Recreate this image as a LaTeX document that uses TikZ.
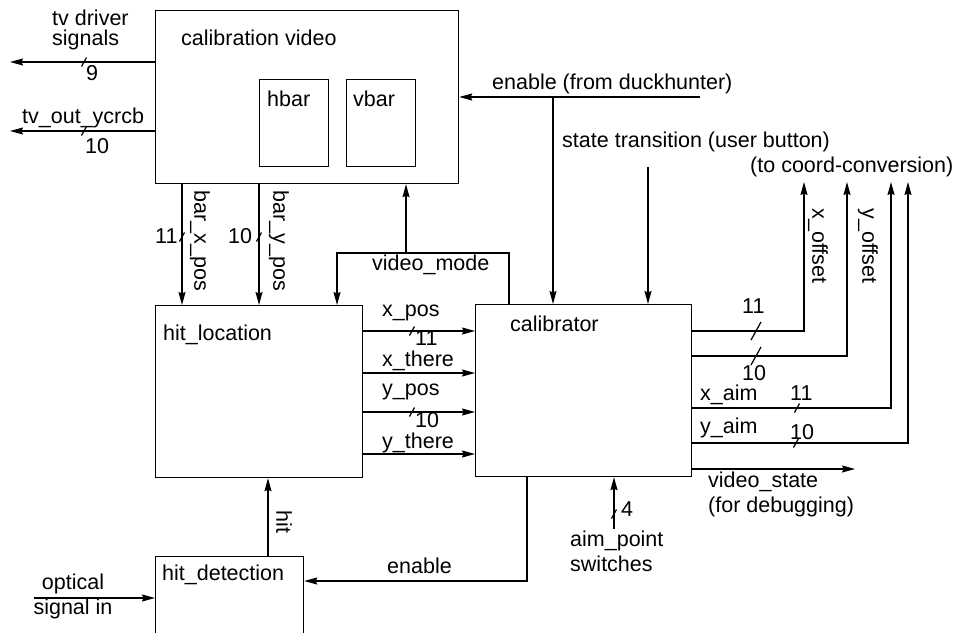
\documentclass[tikz,border=0pt]{standalone}
\usepackage{fontspec}
\setmainfont{Liberation Sans}
\usetikzlibrary{arrows.meta,calc}

\tikzset{
  blk/.style={draw, line width=1.2pt, anchor=north west, inner sep=0pt},
  lbl/.style={anchor=base west, inner sep=0pt, font=\fontsize{21.5}{25}\selectfont},
  vlbl/.style={rotate=-90, inner sep=0pt, font=\fontsize{21.5}{25}\selectfont},
  sig/.style={line width=1.2pt, -{Stealth[length=13pt,width=7pt,inset=1.5pt]}},
  wire/.style={line width=1.2pt}
}
\newcommand{\busmark}[2][1]{\draw[wire] ($(#2)+(-2.5*#1,4.5*#1)$) -- ($(#2)+(2.5*#1,-4.5*#1)$);}

\begin{document}
\begin{tikzpicture}[x=1pt, y=-1pt]
    \useasboundingbox (0,0) rectangle (955,632);
    \clip (0,0) rectangle (955,632);

    % Blocks
    \node[blk, minimum width=303pt, minimum height=173pt] (cv) at (155,10) {};
    \node[blk, minimum width=69pt, minimum height=87pt] (hbar) at (259,79) {};
    \node[blk, minimum width=69pt, minimum height=87pt] (vbar) at (346,79) {};
    \node[blk, minimum width=207pt, minimum height=172pt] (hl) at (155,305) {};
    \node[blk, minimum width=216pt, minimum height=172pt] (cal) at (475,304) {};
    \node[blk, minimum width=148pt, minimum height=100pt] (hd) at (155,556) {};

    \node[lbl] (cvT) at (181,45) {calibration video};
    \node[lbl] (hbarT) at (267,106) {hbar};
    \node[lbl] (vbarT) at (353,106) {vbar};
    \node[lbl] (hlT) at (163,340) {hit\_location};
    \node[lbl] (calT) at (510,331) {calibrator};
    \node[lbl] (hdT) at (162,580) {hit\_detection};

    % Free ends and bends
    \coordinate (tvd) at (10,62);
    \coordinate (tvo) at (10,131);
    \coordinate (bx) at (182,0);
    \coordinate (by) at (259,0);
    \coordinate (vmR) at (509,253);
    \coordinate (vmL) at (337,253);
    \coordinate (vmU) at (406,253);
    \coordinate (xp) at (0,331);
    \coordinate (xt) at (0,373);
    \coordinate (yp) at (0,412);
    \coordinate (yt) at (0,454);
    \coordinate (enIn) at (700,97);
    \coordinate (enJ) at (553,97);
    \coordinate (stIn) at (648,167);
    \coordinate (xo) at (804,331);
    \coordinate (xoT) at (804,182);
    \coordinate (yo) at (847,356);
    \coordinate (yoT) at (847,182);
    \coordinate (xa) at (891,408);
    \coordinate (xaT) at (891,182);
    \coordinate (ya) at (908,443);
    \coordinate (yaT) at (908,182);
    \coordinate (vs) at (855,469);
    \coordinate (ap) at (614,529);
    \coordinate (enB) at (527,581);
    \coordinate (hitx) at (268,0);
    \coordinate (opt) at (34,598);

    % Connections
    \draw[sig] (cv.west |- tvd) -- (tvd);
    \draw[sig] (cv.west |- tvo) -- (tvo);
    \draw[sig] (cv.south -| bx) -- (hl.north -| bx);
    \draw[sig] (cv.south -| by) -- (hl.north -| by);
    \draw[sig] (cal.north -| vmR) -- (vmR) -- (vmL) -- (hl.north -| vmL);
    \draw[sig] (vmU) -- (cv.south -| vmU);
    \draw[sig] (hl.east |- xp) -- (cal.west |- xp);
    \draw[sig] (hl.east |- xt) -- (cal.west |- xt);
    \draw[sig] (hl.east |- yp) -- (cal.west |- yp);
    \draw[sig] (hl.east |- yt) -- (cal.west |- yt);
    \draw[sig] (enIn) -- (cv.east |- enIn);
    \draw[sig] (enJ) -- (cal.north -| enJ);
    \draw[sig] (stIn) -- (cal.north -| stIn);
    \draw[sig] (cal.east |- xo) -- (xo) -- (xoT);
    \draw[sig] (cal.east |- yo) -- (yo) -- (yoT);
    \draw[sig] (cal.east |- xa) -- (xa) -- (xaT);
    \draw[sig] (cal.east |- ya) -- (ya) -- (yaT);
    \draw[sig] (cal.east |- vs) -- (vs);
    \draw[sig] (ap) -- (cal.south -| ap);
    \draw[sig] (cal.south -| enB) -- (enB) -- (hd.east |- enB);
    \draw[sig] (hd.north -| hitx) -- (hl.south -| hitx);
    \draw[sig] (opt) -- (hd.west |- opt);

    % Bus widths
    \busmark{84,62} \busmark{84,131}
    \busmark{182,237} \busmark{259,237}
    \busmark{412,331} \busmark{412,412}
    \busmark[2]{756,331} \busmark[2]{756,356}
    \busmark{797,408} \busmark{796,443}
    \busmark{614,514}
    \node[lbl] (w1) at (86,80.5) {9};
    \node[lbl] (w2) at (85,153) {10};
    \node[lbl] (w3) at (155,243) {11};
    \node[lbl] (w4) at (228,243) {10};
    \node[lbl] (w5) at (415,345) {11};
    \node[lbl] (w6) at (415,427) {10};
    \node[lbl] (w7) at (742,313) {11};
    \node[lbl] (w8) at (742,380) {10};
    \node[lbl] (w9) at (790,400) {11};
    \node[lbl] (w10) at (790,439) {10};
    \node[lbl] (w11) at (621,516) {4};

    % Signal names
    \node[lbl] (tvdT) at (52,25) {tv driver};
    \node[lbl] (tvsT) at (52,45) {signals};
    \node[lbl] (tvoT) at (22,123) {tv\_out\_ycrcb};
    \node[vlbl] (bxT) at (200,241) {bar\_x\_pos};
    \node[vlbl] (byT) at (279,241) {bar\_y\_pos};
    \node[lbl] (vmT) at (372,270) {video\_mode};
    \node[lbl] (xpT) at (382,316) {x\_pos};
    \node[lbl] (xtT) at (382,366) {x\_there};
    \node[lbl] (ypT) at (382,395) {y\_pos};
    \node[lbl] (ytT) at (382,448) {y\_there};
    \node[lbl] (enT) at (492,89) {enable (from duckhunter)};
    \node[lbl] (stT) at (562,147) {state transition (user button)};
    \node[lbl] (ccT) at (750,172) {(to coord-conversion)};
    \node[vlbl] (xoL) at (818,246) {x\_offset};
    \node[vlbl] (yoL) at (868,246) {y\_offset};
    \node[lbl] (xaL) at (700,400) {x\_aim};
    \node[lbl] (yaL) at (700,433) {y\_aim};
    \node[lbl, anchor=west, align=left] (vsT) at (708,494) {video\_state\\(for debugging)};
    \node[lbl, anchor=west, align=left] (apT) at (570,551) {aim\_point\\switches};
    \node[lbl] (enBT) at (387,573) {enable};
    \node[vlbl] (hitT) at (284,522) {hit};
    \node[lbl, anchor=center, align=center] (optT) at (73,596) {optical\\signal in};
\end{tikzpicture}
\end{document}
